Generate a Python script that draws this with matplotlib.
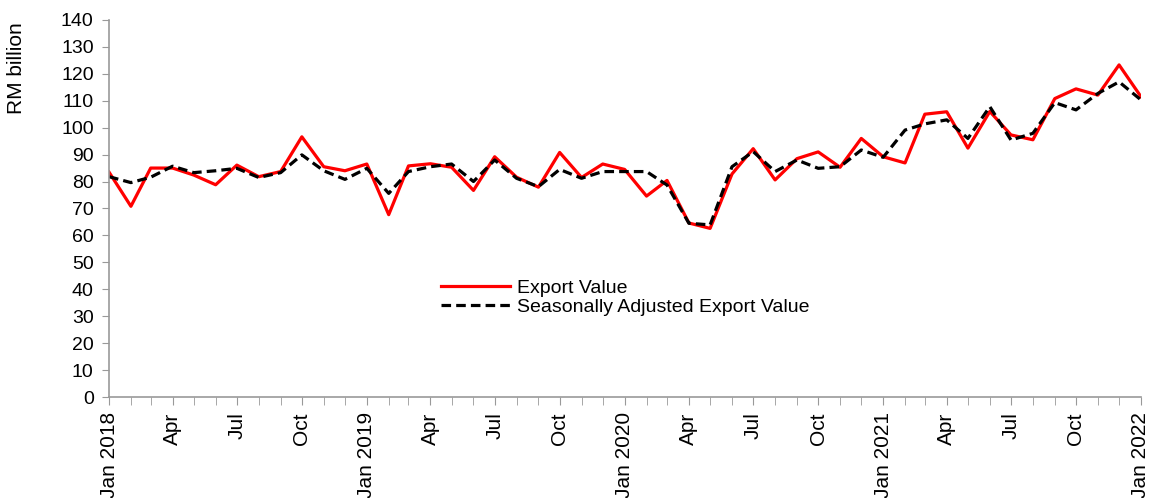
import matplotlib
matplotlib.use('Agg')
import matplotlib.pyplot as plt
import matplotlib.dates as mdates
import pandas as pd

plt.rcParams['font.family'] = ['Liberation Sans', 'DejaVu Sans']

# monthly data, Jan 2018 - Jan 2022 (RM billion)
months = pd.date_range('2018-01-01', periods=49, freq='MS')
export_value = [83.5, 70.8, 85.0, 85.0, 82.4, 78.8, 86.1, 81.8, 83.7, 96.6, 85.5, 84.0,
                86.5, 67.7, 85.8, 86.6, 85.3, 76.7, 89.2, 81.6, 77.9, 90.8, 81.5, 86.5,
                84.5, 74.6, 80.4, 64.6, 62.6, 82.8, 92.2, 80.6, 88.5, 91.0, 85.3, 96.0,
                89.2, 86.9, 105.0, 105.9, 92.4, 106.0, 97.3, 95.5, 110.8, 114.4, 112.1, 123.3,
                111.5]
sa_export_value = [81.8, 79.6, 81.6, 85.7, 83.3, 84.0, 84.9, 81.5, 83.3, 89.9, 84.0, 80.8,
                   84.9, 75.6, 83.7, 85.5, 86.5, 80.0, 88.0, 81.2, 78.1, 84.5, 81.2, 83.7,
                   83.7, 83.7, 78.7, 64.5, 63.9, 85.5, 91.1, 83.7, 88.0, 84.9, 85.5, 91.7,
                   89.0, 99.1, 101.4, 102.9, 96.0, 107.8, 95.4, 97.9, 109.3, 106.6, 112.7, 117.0,
                   110.3]

fig = plt.figure(figsize=(11.56, 4.98), dpi=100)
ax = fig.add_axes([0.0943, 0.2028, 0.8927, 0.7572])

ax.plot(months, export_value, color='#ff0000', lw=2.3, label='Export Value')
ax.plot(months, sa_export_value, color='black', lw=2.3, ls=(0, (3, 1.6)),
        label='Seasonally Adjusted Export Value')

ax.set_xlim(months[0], months[-1])
ax.set_ylim(0, 140)
ax.set_yticks(range(0, 141, 10))

ax.xaxis.set_major_locator(mdates.MonthLocator(bymonth=[1, 4, 7, 10]))
ax.xaxis.set_minor_locator(mdates.MonthLocator())


def fmt(x, pos=None):
    d = mdates.num2date(x)
    return d.strftime('%b %Y') if d.month == 1 else d.strftime('%b')


ax.xaxis.set_major_formatter(plt.FuncFormatter(fmt))
ax.tick_params(axis='x', which='both', length=6, color='#999999', labelsize=15,
               labelrotation=90, pad=5)
ax.tick_params(axis='y', length=5, color='#999999', labelsize=14, pad=6)

for s in ['top', 'right']:
    ax.spines[s].set_visible(False)
for s in ['left', 'bottom']:
    ax.spines[s].set_color('#999999')
    ax.spines[s].set_linewidth(1.2)

ax.set_ylabel('RM billion', fontsize=15, loc='top')
ax.yaxis.set_label_coords(-0.0804, 0.995)

ax.legend(loc='upper left', bbox_to_anchor=(0.3217, 0.313), frameon=False, fontsize=14,
          handlelength=3.55, handletextpad=0.36, labelspacing=0.1, borderpad=0,
          borderaxespad=0)

fig.savefig('out.png', dpi=100)
